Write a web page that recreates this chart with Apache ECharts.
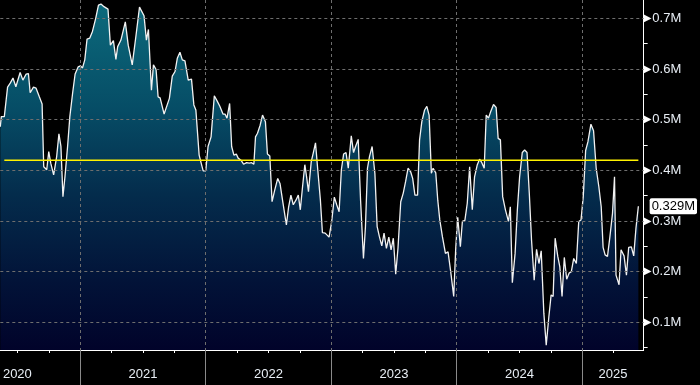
<!DOCTYPE html>
<html><head><meta charset="utf-8">
<script src="https://cdn.jsdelivr.net/npm/echarts@6/dist/echarts.min.js"></script>
<style>html,body{margin:0;padding:0;background:#000}#c{width:700px;height:385px}</style>
</head><body><div id="c"></div>
<script>
// time in decimal years
const yearFrac = [
2020.364,2020.372,2020.396,2020.422,2020.443,2020.465,2020.488,2020.522,2020.544,2020.570,
2020.588,2020.602,2020.628,2020.649,2020.675,2020.697,2020.710,2020.734,2020.750,2020.766,
2020.789,2020.813,2020.831,2020.847,2020.863,2020.879,2020.900,2020.918,2020.940,2020.960,
2020.984,2021.003,2021.019,2021.037,2021.055,2021.077,2021.098,2021.124,2021.146,2021.166,
2021.190,2021.222,2021.241,2021.265,2021.285,2021.299,2021.325,2021.360,2021.383,2021.415,
2021.444,2021.473,2021.509,2021.528,2021.544,2021.568,2021.584,2021.605,2021.621,2021.637,
2021.669,2021.684,2021.711,2021.734,2021.756,2021.774,2021.795,2021.814,2021.835,2021.861,
2021.887,2021.906,2021.922,2021.948,2021.980,2022.001,2022.019,2022.043,2022.069,2022.091,
2022.112,2022.138,2022.154,2022.170,2022.191,2022.207,2022.225,2022.244,2022.259,2022.281,
2022.302,2022.326,2022.347,2022.366,2022.384,2022.397,2022.413,2022.434,2022.453,2022.476,
2022.492,2022.511,2022.529,2022.550,2022.574,2022.592,2022.616,2022.643,2022.661,2022.679,
2022.698,2022.719,2022.738,2022.754,2022.772,2022.790,2022.804,2022.819,2022.841,2022.857,
2022.875,2022.893,2022.914,2022.930,2022.952,2022.983,2023.004,2023.025,2023.044,2023.063,
2023.081,2023.099,2023.118,2023.136,2023.160,2023.178,2023.194,2023.215,2023.234,2023.257,
2023.273,2023.289,2023.305,2023.326,2023.348,2023.366,2023.384,2023.403,2023.421,2023.440,
2023.459,2023.477,2023.495,2023.514,2023.532,2023.554,2023.574,2023.593,2023.612,2023.633,
2023.649,2023.667,2023.688,2023.704,2023.722,2023.744,2023.762,2023.780,2023.798,2023.812,
2023.833,2023.849,2023.865,2023.886,2023.910,2023.931,2023.952,2023.976,2023.992,2024.008,
2024.029,2024.045,2024.065,2024.084,2024.103,2024.124,2024.142,2024.164,2024.182,2024.200,
2024.219,2024.235,2024.253,2024.271,2024.293,2024.314,2024.330,2024.348,2024.366,2024.388,
2024.412,2024.427,2024.443,2024.465,2024.483,2024.501,2024.522,2024.541,2024.560,2024.578,
2024.596,2024.617,2024.636,2024.655,2024.673,2024.694,2024.713,2024.734,2024.752,2024.768,
2024.784,2024.805,2024.821,2024.839,2024.857,2024.876,2024.895,2024.913,2024.932,2024.953,
2024.972,2024.990,2025.008,2025.027,2025.045,2025.069,2025.090,2025.111,2025.132,2025.151,
2025.166,2025.182,2025.201,2025.219,2025.241,2025.257,2025.269,2025.293,2025.309,2025.333,
2025.352,2025.370,2025.391,2025.410,2025.428,2025.447
];
// values in millions
const values = [
0.486,0.506,0.506,0.564,0.572,0.582,0.565,0.593,0.578,0.590,
0.591,0.553,0.564,0.562,0.545,0.531,0.407,0.401,0.437,0.414,
0.391,0.427,0.472,0.447,0.348,0.387,0.447,0.506,0.552,0.590,
0.604,0.606,0.602,0.618,0.659,0.661,0.674,0.700,0.726,0.728,
0.723,0.718,0.647,0.656,0.619,0.644,0.657,0.693,0.647,0.608,
0.664,0.722,0.705,0.657,0.678,0.558,0.608,0.599,0.545,0.543,
0.511,0.513,0.542,0.586,0.595,0.621,0.633,0.618,0.616,0.578,
0.580,0.529,0.519,0.430,0.399,0.399,0.447,0.466,0.547,0.537,
0.527,0.511,0.511,0.503,0.532,0.447,0.430,0.432,0.424,0.420,
0.412,0.415,0.414,0.415,0.412,0.466,0.473,0.489,0.509,0.496,
0.432,0.428,0.338,0.361,0.384,0.374,0.335,0.292,0.328,0.351,
0.332,0.341,0.351,0.322,0.368,0.411,0.387,0.358,0.417,0.434,
0.454,0.401,0.341,0.277,0.276,0.268,0.299,0.347,0.332,0.318,
0.401,0.432,0.435,0.404,0.468,0.435,0.447,0.461,0.341,0.226,
0.289,0.404,0.427,0.447,0.394,0.289,0.269,0.251,0.276,0.246,
0.268,0.243,0.266,0.195,0.246,0.338,0.355,0.378,0.404,0.397,
0.384,0.351,0.351,0.460,0.496,0.519,0.526,0.509,0.394,0.404,
0.395,0.341,0.302,0.269,0.236,0.239,0.200,0.151,0.246,0.307,
0.249,0.299,0.301,0.335,0.407,0.322,0.387,0.411,0.422,0.415,
0.404,0.509,0.503,0.516,0.530,0.524,0.463,0.460,0.348,0.322,
0.299,0.328,0.178,0.236,0.322,0.387,0.435,0.440,0.435,0.355,
0.262,0.183,0.244,0.216,0.241,0.118,0.055,0.111,0.154,0.151,
0.266,0.230,0.210,0.151,0.228,0.185,0.197,0.200,0.226,0.216,
0.299,0.302,0.348,0.439,0.456,0.491,0.478,0.404,0.368,0.328,
0.248,0.233,0.230,0.266,0.315,0.387,0.193,0.174,0.243,0.231,
0.193,0.248,0.249,0.231,0.286,0.329
];
const yLabelTicks = [0.1,0.2,0.3,0.4,0.5,0.6,0.7];
const yMinorTicks = [0.05,0.1,0.15,0.2,0.25,0.3,0.35,0.4,0.45,0.5,0.55,0.6,0.65,0.7];
const yearBoundaries = [2021,2022,2023,2024,2025];
const quarterTicks = [2020.5,2020.75,2021.25,2021.5,2021.75,2022.25,2022.5,2022.75,2023.25,2023.5,2023.75,2024.25,2024.5,2024.75,2025.25];
const xRange = [2020.364, 2025.489];
const yRange = [0.0453, 0.7361];
const yearLabelPos = [2020.5,2021.5,2022.5,2023.5,2024.5,(2025+xRange[1])/2];
const avgValue = 0.42;
const avgSpan = [2020.396, 2025.447];

const lastValue = values[values.length-1];
const font = 'Liberation Sans';
const grid = {left:0, right:53, top:0, bottom:35};
const chart = echarts.init(document.getElementById('c'), null, {renderer:'canvas'});
chart.setOption({
  backgroundColor:'#000',
  animation:false,
  grid,
  xAxis:[
    {type:'value', min:xRange[0], max:xRange[1], position:'bottom',
     axisLine:{show:true, lineStyle:{color:'#ffffff', width:1}},
     axisTick:{show:true, customValues:quarterTicks, length:3, lineStyle:{color:'#ffffff'}},
     axisLabel:{show:true, customValues:yearLabelPos, margin:18, color:'#e8eef5', fontFamily:font, fontSize:13,
       formatter:v=>String(Math.floor(v))},
     splitLine:{show:false}},
    {type:'value', min:xRange[0], max:xRange[1], position:'bottom', z:3,
     axisLine:{show:false},
     axisTick:{show:true, customValues:yearBoundaries, length:35, lineStyle:{color:'#8a8a8a'}},
     axisLabel:{show:false},
     splitLine:{show:true, lineStyle:{color:'#6e6e6e', type:[3,3], width:1}}}
  ],
  yAxis:[
    {type:'value', position:'right', min:yRange[0], max:yRange[1],
     axisLine:{show:true, lineStyle:{color:'#ffffff'}},
     axisTick:{show:true, customValues:yMinorTicks, length:4, lineStyle:{color:'#ffffff'}},
     axisLabel:{show:true, customValues:yLabelTicks, margin:0,
       formatter:v=>'{t|▶}{v|'+v.toFixed(1)+'M}',
       rich:{t:{fontSize:10, color:'#ffffff', padding:[0,1,0,0], fontFamily:'DejaVu Sans'},
             v:{fontSize:13, color:'#e8eef5', fontFamily:font}}},
     splitLine:{show:false}},
    {type:'value', position:'right', min:yRange[0], max:yRange[1], z:3,
     axisLine:{show:false},
     axisTick:{show:false, customValues:yLabelTicks},
     axisLabel:{show:false},
     splitLine:{show:true, lineStyle:{color:'#6e6e6e', type:[3,3], width:1}}},
    {type:'value', position:'right', min:yRange[0], max:yRange[1], z:6,
     axisLine:{show:false},
     axisTick:{show:false, customValues:[lastValue]},
     axisLabel:{show:true, customValues:[lastValue], margin:6,
       formatter:v=>v.toFixed(3)+'M',
       color:'#000', backgroundColor:'#ffffff', padding:[2,2,1,2], borderRadius:2,
       fontFamily:font, fontSize:13},
     splitLine:{show:false}}
  ],
  series:[
    {type:'line', xAxisIndex:0, yAxisIndex:0, z:2,
     data:yearFrac.map((t,i)=>[t, values[i]]),
     symbol:'none', smooth:false,
     lineStyle:{color:'#f2f2f2', width:1.3},
     areaStyle:{color:{type:'linear', x:0, y:0, x2:0, y2:1, colorStops:[
       {offset:0, color:'#0c6a7c'},
       {offset:0.3, color:'#064d66'},
       {offset:0.55, color:'#042c4c'},
       {offset:0.8, color:'#021338'},
       {offset:1, color:'#01032a'}]}, opacity:1}},
    {type:'line', xAxisIndex:0, yAxisIndex:0, z:5,
     data:avgSpan.map(t=>[t, avgValue]),
     symbol:'none', lineStyle:{color:'#fff200', width:1.5}}
  ]
});
</script></body></html>
